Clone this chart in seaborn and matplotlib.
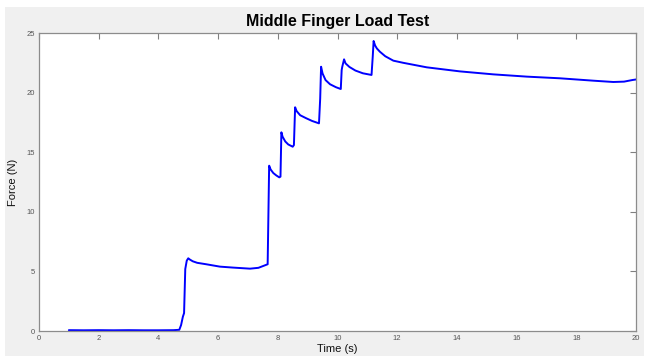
import numpy as np
import matplotlib
matplotlib.use("Agg")
import matplotlib.pyplot as plt
import seaborn as sns
from matplotlib.patches import Rectangle

# Force trace (time in s, force in N)
time_s = [1.0, 1.5, 2.0, 2.5, 3.0, 3.5, 4.0, 4.5, 4.70, 4.76, 4.82, 4.86, 4.90,
          4.95, 5.00, 5.05, 5.15, 5.30, 5.60, 6.06, 6.50, 7.07, 7.35, 7.60,
          7.66, 7.71, 7.76, 7.85, 7.95, 8.05, 8.09, 8.12, 8.16, 8.25, 8.35,
          8.50, 8.54, 8.58, 8.63, 8.75, 8.95, 9.15, 9.38, 9.42, 9.45, 9.50,
          9.60, 9.75, 9.95, 10.11, 10.14, 10.16, 10.22, 10.27, 10.40, 10.60,
          10.85, 11.14, 11.18, 11.21, 11.26, 11.32, 11.42, 11.60, 11.87, 12.20,
          12.99, 14.10, 15.22, 16.34, 17.45, 18.57, 19.24, 19.60, 19.89, 20.0]
force_n = [0.07, 0.06, 0.07, 0.06, 0.07, 0.06, 0.06, 0.07, 0.10, 0.50, 1.20, 1.50, 5.20,
           5.90, 6.10, 6.00, 5.85, 5.72, 5.60, 5.40, 5.32, 5.23, 5.30, 5.54,
           5.60, 13.87, 13.55, 13.25, 13.05, 12.89, 12.95, 16.67, 16.30, 15.90, 15.65,
           15.46, 15.60, 18.77, 18.45, 18.10, 17.85, 17.62, 17.42, 19.50, 22.17, 21.60,
           21.05, 20.70, 20.45, 20.30, 21.90, 22.17, 22.79, 22.45, 22.15, 21.85,
           21.62, 21.48, 23.00, 24.33, 23.95, 23.70, 23.43, 23.05, 22.68, 22.50,
           22.12, 21.78, 21.53, 21.34, 21.20, 21.00, 20.89, 20.92, 21.06, 21.10]

x_ticks = list(range(0, 21, 2))
y_ticks = [0, 5, 10, 15, 20, 25]

sns.set_style("white")
plt.rcParams['font.family'] = ['Liberation Sans', 'DejaVu Sans']

fig = plt.figure(figsize=(6.49, 3.58), dpi=100)
fig.patch.set_facecolor("white")
fig.patches.append(Rectangle((5 / 649, 2 / 358), 639 / 649, 349 / 358,
                             transform=fig.transFigure, facecolor="#f0f0f0",
                             edgecolor="none", zorder=-10))
ax = fig.add_axes([39 / 649, 27 / 358, 597 / 649, 298 / 358])
ax.set_facecolor("white")

sns.lineplot(x=time_s, y=force_n, ax=ax, color="#0000ff", linewidth=1.4,
             estimator=None, sort=False)

ax.set_xlim(0, 20)
ax.set_ylim(0, 25)
ax.set_xticks(x_ticks)
ax.set_yticks(y_ticks)
ax.tick_params(direction="in", length=4, width=0.8, color="#808080",
               labelcolor="#555555", labelsize=5.5, top=True, right=True,
               pad=3)
for sp in ax.spines.values():
    sp.set_visible(True)
    sp.set_color("#8c8c8c")
    sp.set_linewidth(0.9)

ax.set_title("Middle Finger Load Test", fontsize=11.5, fontweight="bold",
             color="black", pad=5)
ax.set_xlabel("Time (s)", fontsize=8, color="#111111", labelpad=1)
ax.set_ylabel("Force (N)", fontsize=8, color="#111111", labelpad=6)

fig.savefig("out.png", dpi=100, facecolor=fig.get_facecolor())
